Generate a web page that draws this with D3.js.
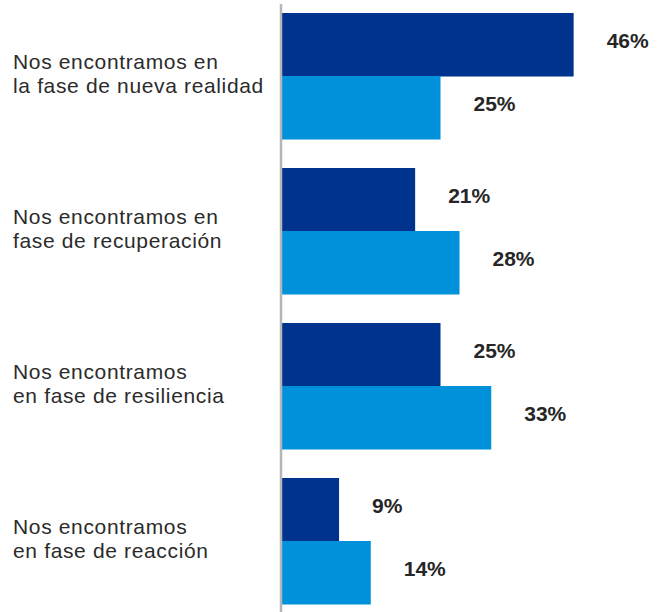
<!DOCTYPE html>
<html>
<head>
<meta charset="utf-8">
<script src="https://cdn.jsdelivr.net/npm/d3@7"></script>
<style>
  body { margin: 0; background: #fff; }
</style>
</head>
<body>
<svg id="chart" width="660" height="612"></svg>
<script>
let categories = [
  ["Nos encontramos en", "la fase de nueva realidad"],
  ["Nos encontramos en", "fase de recuperación"],
  ["Nos encontramos", "en fase de resiliencia"],
  ["Nos encontramos", "en fase de reacción"]
];
let seriesA = [46, 21, 25, 9];
let seriesB = [25, 28, 33, 14];
let seriesColors = ["#00338D", "#0091DA"];

let svg = d3.select("#chart");

let scY = d3.scaleBand().domain(d3.range(categories.length)).range([13, 604]).paddingInner(0.187);
let scSub = d3.scaleBand().domain([0, 1]).range([0, scY.bandwidth()]);
let scX = d3.scaleLinear().domain([0, 50]).range([282, 599]);

let rows = [];
categories.forEach((c, i) => {
  rows.push({cat: i, s: 0, v: seriesA[i]});
  rows.push({cat: i, s: 1, v: seriesB[i]});
});

svg.selectAll("rect.bar").data(rows).enter().append("rect")
  .attr("class", "bar")
  .attr("x", scX(0))
  .attr("y", d => scY(d.cat) + scSub(d.s))
  .attr("width", d => scX(d.v) - scX(0))
  .attr("height", scSub.bandwidth() + 0.5)
  .attr("fill", d => seriesColors[d.s]);

svg.selectAll("text.val").data(rows).enter().append("text")
  .attr("class", "val")
  .text(d => d.v + "%")
  .attr("x", d => scX(d.v) + 33)
  .attr("y", d => scY(d.cat) + scSub(d.s) + scSub.bandwidth() / 2 + 3.5)
  .attr("font-family", "Liberation Sans, Arial, sans-serif")
  .attr("font-weight", "bold")
  .attr("font-size", 21)
  .attr("fill", "#262626");

let lbl = svg.selectAll("text.cat").data(categories).enter().append("text")
  .attr("class", "cat")
  .attr("font-family", "Liberation Sans, Arial, sans-serif")
  .attr("font-size", 21)
  .attr("letter-spacing", 0.65)
  .attr("fill", "#2b2b2b");

lbl.selectAll("tspan").data((d, i) => d.map((t, j) => ({t, j, i}))).enter().append("tspan")
  .attr("x", 13)
  .attr("y", d => scY(d.i) + scY.bandwidth() / 2 - 7 + d.j * 24)
  .text(d => d.t);

svg.append("line")
  .attr("x1", 281).attr("x2", 281)
  .attr("y1", 4).attr("y2", 612)
  .attr("stroke", "#b3b7b7")
  .attr("stroke-width", 2.5);
</script>
</body>
</html>
